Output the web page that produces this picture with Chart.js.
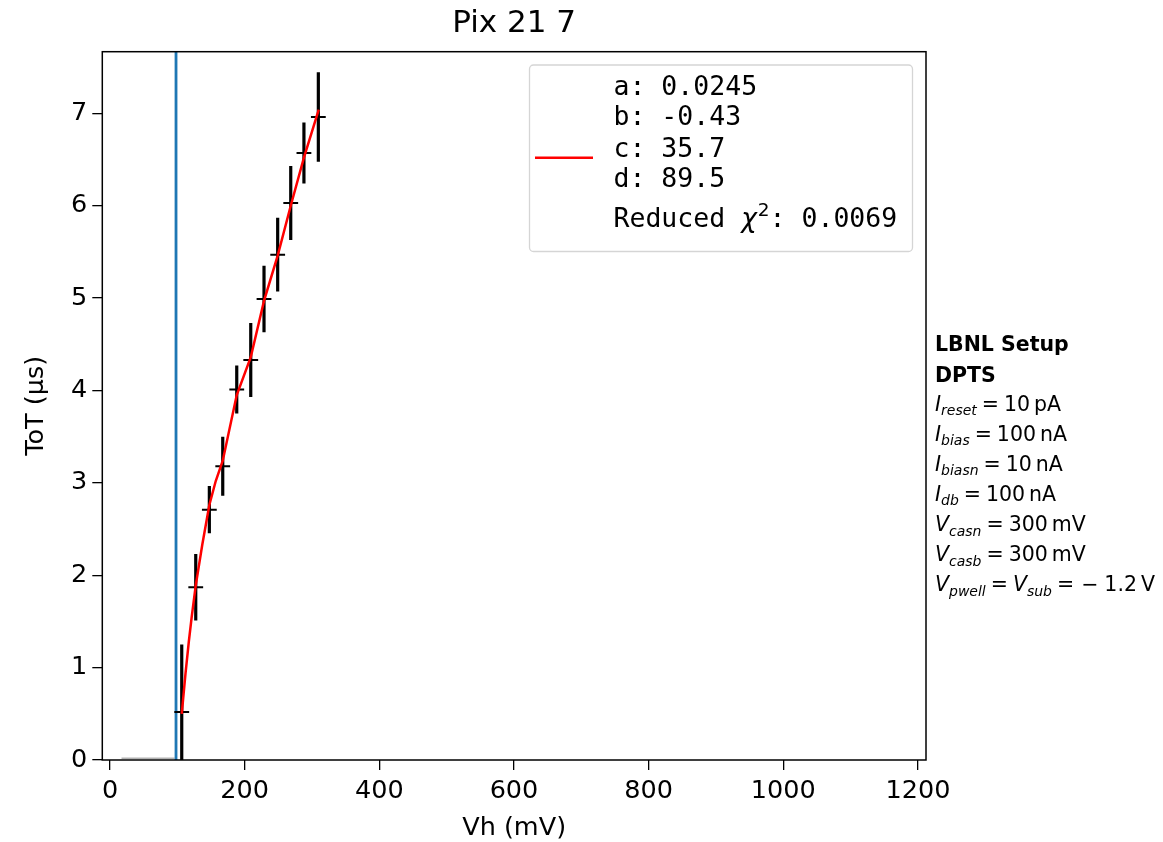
<!DOCTYPE html>
<html>
<head>
<meta charset="utf-8">
<script src="https://cdn.jsdelivr.net/npm/chart.js@4"></script>
<style>
  html, body { margin: 0; padding: 0; background: #fff; }
  canvas { display: block; }
</style>
</head>
<body>
<canvas id="chart" width="1163" height="842"></canvas>
<script>
// ---------- DATA ----------
const vh     = [106.5, 127.3, 147.5, 167.4, 188.2, 209, 228.7, 249, 268.4, 288, 309.4];
const tot    = [0.52, 1.87, 2.71, 3.18, 4.01, 4.33, 4.99, 5.47, 6.03, 6.57, 6.96];
const totErr = [0.73, 0.36, 0.255, 0.32, 0.26, 0.40, 0.36, 0.40, 0.40, 0.33, 0.485];
const vhErr  = [11, 11, 11, 11, 11, 11, 11, 11, 11, 11, 11];

// fit curve
const fitVh  = [106.5, 112, 117, 121.3, 127.3, 137, 147.5, 157, 167.4, 188.2, 209, 228.7, 249, 268.4, 288, 310];
const fitTot = [0.50, 0.93, 1.28, 1.55, 1.89, 2.33, 2.76, 3.02, 3.24, 3.95, 4.36, 4.97, 5.46, 6.00, 6.52, 7.04];

// zero-ToT points under the axis and the threshold line
const zeroVh  = [17, 96];
const zeroTot = [0.02, 0.02];
const thresholdVh = 98;

const xTicks = [0, 200, 400, 600, 800, 1000, 1200];
const yTicks = [0, 1, 2, 3, 4, 5, 6, 7];
const xRange = [-11.5, 1212];
const yRange = [0, 7.667];

const fitParams = ['a: 0.0245', 'b: -0.43', 'c: 35.7', 'd: 89.5'];
const chi2Value = '0.0069';

// [text, style, gap before in px]
const setupLines = [
    [['LBNL Setup', 'b', 0]],
    [['DPTS', 'b', 0]],
    [['I', 'i', 0], ['reset', 's', 0], ['=', 'r', 5], ['10', 'r', 5], ['pA', 'r', 4]],
    [['I', 'i', 0], ['bias', 's', 0], ['=', 'r', 5], ['100', 'r', 5], ['nA', 'r', 4]],
    [['I', 'i', 0], ['biasn', 's', 0], ['=', 'r', 5], ['10', 'r', 5], ['nA', 'r', 4]],
    [['I', 'i', 0], ['db', 's', 0], ['=', 'r', 5], ['100', 'r', 5], ['nA', 'r', 4]],
    [['V', 'i', 0], ['casn', 's', 0], ['=', 'r', 5], ['300', 'r', 5], ['mV', 'r', 4]],
    [['V', 'i', 0], ['casb', 's', 0], ['=', 'r', 5], ['300', 'r', 5], ['mV', 'r', 4]],
    [['V', 'i', 0], ['pwell', 's', 0], ['=', 'r', 5], ['V', 'i', 5], ['sub', 's', 0], ['=', 'r', 5],
     ['\u2212', 'r', 7], ['1.2', 'r', 6], ['V', 'r', 4]]
];

// ---------- BUILD DATASETS ----------
const fitData = fitVh.map((v, i) => ({ x: v, y: fitTot[i] }));

const yErrData = [];
const xErrData = [];
vh.forEach((v, i) => {
    yErrData.push({ x: v, y: tot[i] - totErr[i] }, { x: v, y: tot[i] + totErr[i] }, { x: v, y: null });
    xErrData.push({ x: v - vhErr[i], y: tot[i] }, { x: v + vhErr[i], y: tot[i] }, { x: v, y: null });
});

const zeroData = zeroVh.map((v, i) => ({ x: v, y: zeroTot[i] }));
const thresholdData = [{ x: thresholdVh, y: yRange[0] }, { x: thresholdVh, y: yRange[1] }];

const lineSet = (data, color, width, order) => ({
    data, borderColor: color, backgroundColor: color, borderWidth: width,
    showLine: true, pointRadius: 0, spanGaps: false, tension: 0, order
});

// ---------- PLUGINS ----------
const framePlugin = {
    id: 'frame',
    afterDatasetsDraw(chart) {
        const { ctx, chartArea: a } = chart;
        ctx.save();
        ctx.strokeStyle = '#000';
        ctx.lineWidth = 1.5;
        ctx.strokeRect(a.left, a.top, a.right - a.left, a.bottom - a.top);
        ctx.restore();
    }
};

const legendPlugin = {
    id: 'fitLegend',
    afterDraw(chart) {
        const ctx = chart.ctx;
        ctx.save();
        ctx.beginPath();
        ctx.roundRect(529.5, 65, 383, 186.5, 4);
        ctx.fillStyle = 'rgba(255,255,255,0.8)';
        ctx.fill();
        ctx.strokeStyle = '#d5d5d5';
        ctx.lineWidth = 1.3;
        ctx.stroke();

        ctx.beginPath();
        ctx.moveTo(535, 157.7);
        ctx.lineTo(593, 157.7);
        ctx.strokeStyle = '#ff0000';
        ctx.lineWidth = 2.5;
        ctx.stroke();

        ctx.fillStyle = '#000';
        ctx.textBaseline = 'alphabetic';
        ctx.textAlign = 'left';
        const mono = "26.5px 'DejaVu Sans Mono'";
        ctx.font = mono;
        const baselines = [95, 125, 157, 187];
        fitParams.forEach((t, i) => ctx.fillText(t, 613.5, baselines[i]));

        let x = 613.5;
        const y = 227;
        ctx.fillText('Reduced ', x, y);
        x += ctx.measureText('Reduced ').width;
        ctx.font = "italic 26.5px 'DejaVu Sans'";
        ctx.fillText('\u03c7', x, y);
        x += ctx.measureText('\u03c7').width + 1;
        ctx.font = "18.5px 'DejaVu Sans'";
        ctx.fillText('2', x, y - 11);
        x += ctx.measureText('2').width;
        ctx.font = mono;
        ctx.fillText(': ' + chi2Value, x, y);
        ctx.restore();
    }
};

const setupPlugin = {
    id: 'setupText',
    afterDraw(chart) {
        const ctx = chart.ctx;
        const fonts = {
            b: "bold 20.5px 'DejaVu Sans'",
            i: "italic 20.5px 'DejaVu Sans'",
            s: "italic 14px 'DejaVu Sans'",
            r: "20.5px 'DejaVu Sans'"
        };
        const baselines = [350.7, 381.5, 410.5, 440.5, 470.5, 500.5, 531, 561, 591];
        ctx.save();
        ctx.fillStyle = '#000';
        ctx.textAlign = 'left';
        ctx.textBaseline = 'alphabetic';
        setupLines.forEach((segs, li) => {
            let x = 935;
            segs.forEach(([text, style, gap]) => {
                x += gap;
                ctx.font = fonts[style];
                const dy = style === 's' ? 4.5 : 0;
                ctx.fillText(text, x, baselines[li] + dy);
                x += ctx.measureText(text).width;
            });
        });
        ctx.restore();
    }
};

// ---------- CHART ----------
Chart.defaults.font.family = "'DejaVu Sans'";
Chart.defaults.color = '#000';

const axisCommon = {
    type: 'linear',
    grid: { drawOnChartArea: false, drawTicks: true, tickLength: 10, color: '#000', lineWidth: 1.3 },
    border: { display: false },
    ticks: { color: '#000', font: { size: 25.5 }, maxRotation: 0, autoSkip: false, callback: v => String(v) }
};

new Chart(document.getElementById('chart'), {
    type: 'scatter',
    data: {
        datasets: [
            lineSet(fitData, '#ff0000', 2.5, 0),
            lineSet(yErrData, '#000000', 3.2, 1),
            lineSet(xErrData, '#000000', 2, 1),
            lineSet(thresholdData, '#1f77b4', 2.8, 2),
            lineSet(zeroData, 'rgba(0,0,0,0.3)', 1.5, 3)
        ]
    },
    options: {
        responsive: false,
        animation: false,
        events: [],
        layout: { padding: { left: 0, right: 237, top: 0, bottom: 0 } },
        plugins: {
            legend: { display: false },
            tooltip: { enabled: false },
            title: {
                display: true, text: 'Pix 21 7', fullSize: false, color: '#000',
                font: { size: 31, weight: 'normal', lineHeight: 1.2 },
                padding: { top: 5, bottom: 9.5 }
            }
        },
        scales: {
            x: {
                ...axisCommon,
                min: xRange[0], max: xRange[1],
                ticks: { ...axisCommon.ticks, padding: 6 },
                afterFit: s => { s.height = 82; },
                afterBuildTicks: s => { s.ticks = xTicks.map(v => ({ value: v })); },
                title: { display: true, text: 'Vh (mV)', color: '#000', font: { size: 25.5, lineHeight: 1.1 }, padding: 0 }
            },
            y: {
                ...axisCommon,
                min: yRange[0], max: yRange[1],
                ticks: { ...axisCommon.ticks, padding: 5 },
                afterFit: s => { s.width = 102.3; },
                afterBuildTicks: s => { s.ticks = yTicks.map(v => ({ value: v })); },
                title: { display: true, text: 'ToT (\u03bcs)', color: '#000', font: { size: 25.5, lineHeight: 1.2 }, padding: { top: 21, bottom: 0 } }
            }
        }
    },
    plugins: [framePlugin, legendPlugin, setupPlugin]
});
</script>
</body>
</html>
